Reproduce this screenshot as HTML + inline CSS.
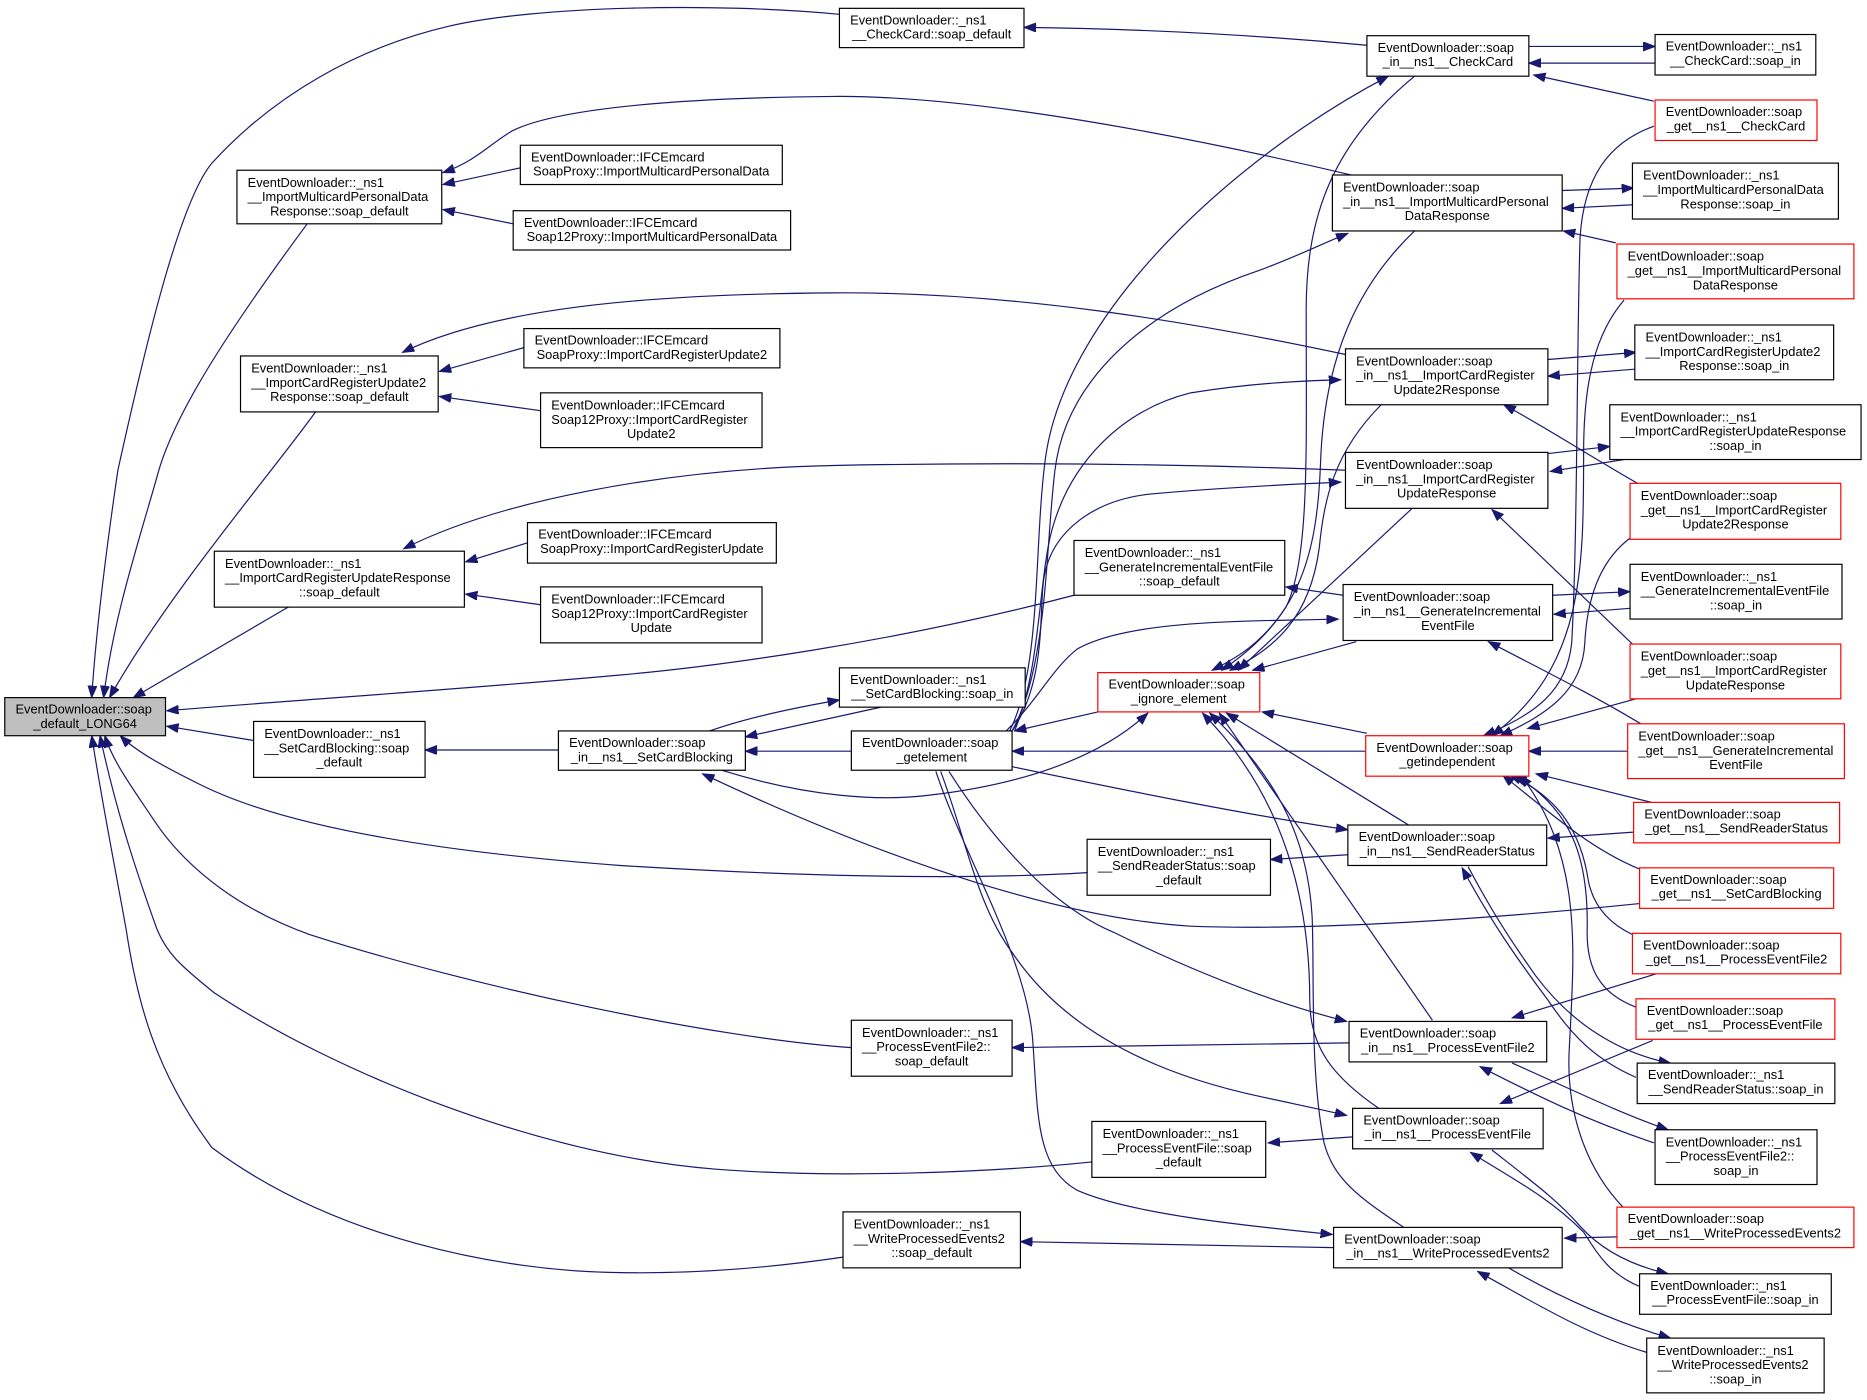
<!DOCTYPE html>
<html><head><meta charset="utf-8"><style>
html,body{margin:0;padding:0;background:#fff;width:1867px;height:1400px;overflow:hidden}
svg{display:block}
.e{fill:none;stroke:#191970;stroke-width:1;marker-end:url(#ah)}
.n rect{fill:#fff;stroke:#000;stroke-width:1}
.n.r rect{stroke:#ff0000}
.n.g rect{fill:#bfbfbf}
text{font-family:"Liberation Sans",Arial,sans-serif;font-size:10.8px;fill:#000}
text.m{text-anchor:middle}
</style></head><body>
<svg xmlns="http://www.w3.org/2000/svg" width="1867" height="1400" viewBox="0 0 1568 1176" preserveAspectRatio="none">
<defs><marker id="ah" markerUnits="userSpaceOnUse" markerWidth="11" markerHeight="8" refX="10" refY="3.75" orient="auto"><path d="M0,0 L10,3.75 L0,7.5 z" fill="#191970" stroke="#191970" stroke-width="0.8"/></marker></defs>
<rect x="0" y="0" width="1568" height="1176" fill="#fff"/>
<g>
<path class="e" d="M705,12 C600,2 450,5 377,22 C300,40 230,80 178,137 C150,170 120,300 99,395 C88,470 80,540 77,586"/>
<path class="e" d="M258,188 C190,280 145,350 132,400 C115,460 95,520 87,586"/>
<path class="e" d="M265,346 C230,395 140,500 92,586"/>
<path class="e" d="M242,510 L112,586"/>
<path class="e" d="M902,500 C750,540 600,560 521,567 C400,578 250,588 140,597"/>
<path class="e" d="M213,622 L140,610"/>
<path class="e" d="M913,733 C800,740 650,735 521,727 C400,718 250,700 168,659 C140,645 115,632 101,618"/>
<path class="e" d="M715,880 C600,872 400,830 260,785 C190,760 150,720 130,690 C110,660 95,640 88,618"/>
<path class="e" d="M917,976 C830,985 700,990 600,982 C450,970 280,900 180,834 C150,810 140,800 132,781 C110,720 95,670 84,618"/>
<path class="e" d="M708,1056 C640,1066 580,1070 521,1069 C420,1068 280,1040 178,964 C130,900 115,840 106,781 C95,720 85,670 77,618"/>
<path class="e" d="M1148,38 C1050,29 950,24 860,23"/>
<path class="e" d="M1139,148 C1000,115 820,80 700,81 C580,82 470,90 430,110 C410,122 400,135 372,145"/>
<path class="e" d="M437,141 L372,155"/>
<path class="e" d="M431,188 L372,176"/>
<path class="e" d="M1131,298 C1000,270 850,245 700,246 C560,247 420,256 338,296"/>
<path class="e" d="M440,292 L369,312"/>
<path class="e" d="M454,345 L369,333"/>
<path class="e" d="M1131,395 C1000,390 850,388 700,391 C560,394 420,420 339,461"/>
<path class="e" d="M443,456 L391,472"/>
<path class="e" d="M454,508 L391,499"/>
<path class="e" d="M469,630 L357,630"/>
<path class="e" d="M715,631 L626,631"/>
<path class="e" d="M740,594 L626,619"/>
<path class="e" d="M596,614 C630,602 670,594 705,588"/>
<path class="e" d="M606,647 C680,670 740,673 780,668 C850,660 920,640 964,599"/>
<path class="e" d="M1377,759 C1250,772 1100,782 1000,778 C900,772 760,730 590,650"/>
<path class="e" d="M922,598 L852,614"/>
<path class="e" d="M1147,631 L850,631"/>
<path class="e" d="M850,644 C950,665 1050,685 1132,697"/>
<path class="e" d="M848,614 C875,560 868,460 878,385 C895,260 1040,130 1166,64"/>
<path class="e" d="M850,614 C880,560 878,460 886,395 C895,320 960,260 1058,227 C1090,215 1110,205 1132,196"/>
<path class="e" d="M852,614 C875,560 872,480 885,440 C900,390 940,345 1000,330 C1050,322 1090,320 1126,319"/>
<path class="e" d="M850,614 C880,570 872,510 877,484 C884,445 920,420 966,415 C1020,410 1080,407 1126,405"/>
<path class="e" d="M845,614 C870,590 885,560 905,545 C950,520 1050,522 1124,520"/>
<path class="e" d="M1188,64 C1120,120 1097,180 1097,260 C1097,380 1100,470 1080,510 C1060,540 1040,552 1018,563"/>
<path class="e" d="M1188,194 C1140,240 1112,300 1109,390 C1106,470 1090,520 1026,563"/>
<path class="e" d="M1160,340 C1120,380 1112,420 1108,460 C1100,520 1070,545 1033,563"/>
<path class="e" d="M1186,427 L1040,563"/>
<path class="e" d="M1139,539 L1052,563"/>
<path class="e" d="M1183,693 L1030,599"/>
<path class="e" d="M1203,857 L1024,599"/>
<path class="e" d="M1158,931 C1120,905 1100,880 1100,840 C1100,760 1080,690 1040,635 C1030,620 1020,610 1010,599"/>
<path class="e" d="M1179,1031 C1140,1005 1120,990 1112,960 C1100,900 1104,820 1102,770 C1098,700 1070,650 1016,599"/>
<path class="e" d="M1148,616 L1060,598"/>
<path class="e" d="M1128,500 L1080,493"/>
<path class="e" d="M1304,500 L1369,497"/>
<path class="e" d="M1369,511 L1305,516"/>
<path class="e" d="M1378,608 C1340,585 1300,565 1250,539"/>
<path class="e" d="M1371,541 L1253,428"/>
<path class="e" d="M1377,407 C1330,380 1300,360 1263,340"/>
<path class="e" d="M1357,204 L1313,194"/>
<path class="e" d="M1389,85 L1288,63"/>
<path class="e" d="M1284,39 L1390,39"/>
<path class="e" d="M1390,53 L1284,53"/>
<path class="e" d="M1312,160 L1372,158"/>
<path class="e" d="M1372,172 L1312,175"/>
<path class="e" d="M1300,302 L1374,296"/>
<path class="e" d="M1374,310 L1300,316"/>
<path class="e" d="M1300,381 L1352,375"/>
<path class="e" d="M1364,386 L1302,396"/>
<path class="e" d="M1389,106 C1350,120 1330,150 1327,200 C1324,300 1325,450 1320,540 C1316,580 1290,600 1246,618"/>
<path class="e" d="M1364,252 C1340,280 1330,320 1330,380 C1330,480 1330,560 1253,618"/>
<path class="e" d="M1369,452 C1345,470 1333,500 1331,540 C1329,580 1300,600 1260,618"/>
<path class="e" d="M1374,587 L1283,612"/>
<path class="e" d="M1367,631 L1284,631"/>
<path class="e" d="M1391,675 L1290,650"/>
<path class="e" d="M1372,699 L1300,704"/>
<path class="e" d="M1132,718 L1067,722"/>
<path class="e" d="M1377,730 C1340,715 1310,690 1262,651"/>
<path class="e" d="M1371,785 C1350,775 1338,760 1334,740 C1328,700 1310,670 1268,651"/>
<path class="e" d="M1374,846 C1345,835 1332,815 1333,780 C1334,720 1320,680 1272,651"/>
<path class="e" d="M1364,1015 C1330,980 1315,930 1318,880 C1322,800 1330,720 1277,651"/>
<path class="e" d="M1391,818 L1270,855"/>
<path class="e" d="M1133,876 L850,880"/>
<path class="e" d="M1270,893 C1320,915 1360,935 1401,949"/>
<path class="e" d="M1389,960 C1330,940 1290,920 1243,896"/>
<path class="e" d="M1388,874 L1260,927"/>
<path class="e" d="M1136,955 L1065,960"/>
<path class="e" d="M1253,966 C1290,995 1310,1010 1327,1030 C1345,1050 1370,1063 1401,1070"/>
<path class="e" d="M1378,1081 C1350,1070 1340,1050 1330,1035 C1300,1005 1270,990 1235,968"/>
<path class="e" d="M1358,1039 L1314,1040"/>
<path class="e" d="M1120,1048 L857,1043"/>
<path class="e" d="M1267,1065 C1310,1090 1360,1112 1403,1124"/>
<path class="e" d="M1383,1136 C1330,1120 1290,1095 1241,1068"/>
<path class="e" d="M1233,728 C1250,760 1265,785 1290,820 C1320,860 1360,885 1403,893"/>
<path class="e" d="M1374,905 C1340,890 1320,870 1300,840 C1270,800 1250,770 1228,729"/>
<path class="e" d="M797,648 C830,700 880,760 935,783 C990,810 1060,840 1131,858"/>
<path class="e" d="M790,648 C810,700 820,760 850,800 C890,860 960,900 1058,921 C1090,928 1110,932 1131,937"/>
<path class="e" d="M786,648 C810,720 860,800 867,870 C872,930 868,980 905,1000 C950,1020 1050,1030 1119,1037"/>
</g>
<g>
<g class="n g"><rect x="4" y="586" width="135" height="32"/><text x="13" y="599.5">EventDownloader::soap</text><text class="m" x="71.5" y="611.5">_default_LONG64</text></g>
<g class="n"><rect x="705" y="7" width="155" height="33"/><text x="714" y="20.5">EventDownloader::_ns1</text><text class="m" x="782.5" y="32.5">__CheckCard::soap_default</text></g>
<g class="n"><rect x="199" y="143" width="172" height="45"/><text x="208" y="157">EventDownloader::_ns1</text><text x="208" y="169">__ImportMulticardPersonalData</text><text class="m" x="285" y="181">Response::soap_default</text></g>
<g class="n"><rect x="437" y="122" width="220" height="33"/><text x="446" y="135.5">EventDownloader::IFCEmcard</text><text class="m" x="547" y="147.5">SoapProxy::ImportMulticardPersonalData</text></g>
<g class="n"><rect x="431" y="177" width="233" height="33"/><text x="440" y="190.5">EventDownloader::IFCEmcard</text><text class="m" x="547.5" y="202.5">Soap12Proxy::ImportMulticardPersonalData</text></g>
<g class="n"><rect x="202" y="299" width="166" height="47"/><text x="211" y="313">EventDownloader::_ns1</text><text x="211" y="325">__ImportCardRegisterUpdate2</text><text class="m" x="285" y="337">Response::soap_default</text></g>
<g class="n"><rect x="440" y="276" width="215" height="33"/><text x="449" y="289.5">EventDownloader::IFCEmcard</text><text class="m" x="547.5" y="301.5">SoapProxy::ImportCardRegisterUpdate2</text></g>
<g class="n"><rect x="454" y="330" width="186" height="46"/><text x="463" y="344">EventDownloader::IFCEmcard</text><text x="463" y="356">Soap12Proxy::ImportCardRegister</text><text class="m" x="547" y="368">Update2</text></g>
<g class="n"><rect x="180" y="463" width="210" height="47"/><text x="189" y="477">EventDownloader::_ns1</text><text x="189" y="489">__ImportCardRegisterUpdateResponse</text><text class="m" x="285" y="501">::soap_default</text></g>
<g class="n"><rect x="443" y="439" width="209" height="34"/><text x="452" y="452.5">EventDownloader::IFCEmcard</text><text class="m" x="547.5" y="464.5">SoapProxy::ImportCardRegisterUpdate</text></g>
<g class="n"><rect x="454" y="493" width="186" height="47"/><text x="463" y="507">EventDownloader::IFCEmcard</text><text x="463" y="519">Soap12Proxy::ImportCardRegister</text><text class="m" x="547" y="531">Update</text></g>
<g class="n"><rect x="213" y="606" width="144" height="47"/><text x="222" y="620">EventDownloader::_ns1</text><text x="222" y="632">__SetCardBlocking::soap</text><text class="m" x="285" y="644">_default</text></g>
<g class="n"><rect x="469" y="614" width="157" height="33"/><text x="478" y="627.5">EventDownloader::soap</text><text class="m" x="547.5" y="639.5">_in__ns1__SetCardBlocking</text></g>
<g class="n"><rect x="705" y="561" width="156" height="33"/><text x="714" y="574.5">EventDownloader::_ns1</text><text class="m" x="783" y="586.5">__SetCardBlocking::soap_in</text></g>
<g class="n"><rect x="715" y="614" width="135" height="33"/><text x="724" y="627.5">EventDownloader::soap</text><text class="m" x="782.5" y="639.5">_getelement</text></g>
<g class="n r"><rect x="922" y="565" width="136" height="33"/><text x="931" y="578.5">EventDownloader::soap</text><text class="m" x="990" y="590.5">_ignore_element</text></g>
<g class="n"><rect x="902" y="454" width="177" height="46"/><text x="911" y="468">EventDownloader::_ns1</text><text x="911" y="480">__GenerateIncrementalEventFile</text><text class="m" x="990.5" y="492">::soap_default</text></g>
<g class="n"><rect x="913" y="705" width="154" height="47"/><text x="922" y="719">EventDownloader::_ns1</text><text x="922" y="731">__SendReaderStatus::soap</text><text class="m" x="990" y="743">_default</text></g>
<g class="n"><rect x="715" y="857" width="135" height="47"/><text x="724" y="871">EventDownloader::_ns1</text><text x="724" y="883">__ProcessEventFile2::</text><text class="m" x="782.5" y="895">soap_default</text></g>
<g class="n"><rect x="917" y="942" width="146" height="47"/><text x="926" y="956">EventDownloader::_ns1</text><text x="926" y="968">__ProcessEventFile::soap</text><text class="m" x="990" y="980">_default</text></g>
<g class="n"><rect x="708" y="1018" width="149" height="47"/><text x="717" y="1032">EventDownloader::_ns1</text><text x="717" y="1044">__WriteProcessedEvents2</text><text class="m" x="782.5" y="1056">::soap_default</text></g>
<g class="n"><rect x="1148" y="30" width="136" height="34"/><text x="1157" y="43.5">EventDownloader::soap</text><text class="m" x="1216" y="55.5">_in__ns1__CheckCard</text></g>
<g class="n"><rect x="1390" y="29" width="135" height="34"/><text x="1399" y="42.5">EventDownloader::_ns1</text><text class="m" x="1457.5" y="54.5">__CheckCard::soap_in</text></g>
<g class="n r"><rect x="1390" y="84" width="136" height="34"/><text x="1399" y="97.5">EventDownloader::soap</text><text class="m" x="1458" y="109.5">_get__ns1__CheckCard</text></g>
<g class="n"><rect x="1119" y="147" width="193" height="47"/><text x="1128" y="161">EventDownloader::soap</text><text x="1128" y="173">_in__ns1__ImportMulticardPersonal</text><text class="m" x="1215.5" y="185">DataResponse</text></g>
<g class="n"><rect x="1371" y="137" width="173" height="47"/><text x="1380" y="151">EventDownloader::_ns1</text><text x="1380" y="163">__ImportMulticardPersonalData</text><text class="m" x="1457.5" y="175">Response::soap_in</text></g>
<g class="n r"><rect x="1358" y="205" width="199" height="46"/><text x="1367" y="219">EventDownloader::soap</text><text x="1367" y="231">_get__ns1__ImportMulticardPersonal</text><text class="m" x="1457.5" y="243">DataResponse</text></g>
<g class="n"><rect x="1130" y="293" width="170" height="47"/><text x="1139" y="307">EventDownloader::soap</text><text x="1139" y="319">_in__ns1__ImportCardRegister</text><text class="m" x="1215" y="331">Update2Response</text></g>
<g class="n"><rect x="1373" y="273" width="167" height="46"/><text x="1382" y="287">EventDownloader::_ns1</text><text x="1382" y="299">__ImportCardRegisterUpdate2</text><text class="m" x="1456.5" y="311">Response::soap_in</text></g>
<g class="n"><rect x="1352" y="340" width="211" height="46"/><text x="1361" y="354">EventDownloader::_ns1</text><text x="1361" y="366">__ImportCardRegisterUpdateResponse</text><text class="m" x="1457.5" y="378">::soap_in</text></g>
<g class="n"><rect x="1130" y="380" width="170" height="47"/><text x="1139" y="394">EventDownloader::soap</text><text x="1139" y="406">_in__ns1__ImportCardRegister</text><text class="m" x="1215" y="418">UpdateResponse</text></g>
<g class="n r"><rect x="1369" y="406" width="177" height="47"/><text x="1378" y="420">EventDownloader::soap</text><text x="1378" y="432">_get__ns1__ImportCardRegister</text><text class="m" x="1457.5" y="444">Update2Response</text></g>
<g class="n"><rect x="1128" y="491" width="176" height="47"/><text x="1137" y="505">EventDownloader::soap</text><text x="1137" y="517">_in__ns1__GenerateIncremental</text><text class="m" x="1216" y="529">EventFile</text></g>
<g class="n"><rect x="1369" y="474" width="178" height="46"/><text x="1378" y="488">EventDownloader::_ns1</text><text x="1378" y="500">__GenerateIncrementalEventFile</text><text class="m" x="1458" y="512">::soap_in</text></g>
<g class="n r"><rect x="1369" y="541" width="177" height="46"/><text x="1378" y="555">EventDownloader::soap</text><text x="1378" y="567">_get__ns1__ImportCardRegister</text><text class="m" x="1457.5" y="579">UpdateResponse</text></g>
<g class="n r"><rect x="1147" y="618" width="137" height="34"/><text x="1156" y="631.5">EventDownloader::soap</text><text class="m" x="1215.5" y="643.5">_getindependent</text></g>
<g class="n r"><rect x="1367" y="608" width="182" height="46"/><text x="1376" y="622">EventDownloader::soap</text><text x="1376" y="634">_get__ns1__GenerateIncremental</text><text class="m" x="1458" y="646">EventFile</text></g>
<g class="n r"><rect x="1372" y="674" width="173" height="34"/><text x="1381" y="687.5">EventDownloader::soap</text><text class="m" x="1458.5" y="699.5">_get__ns1__SendReaderStatus</text></g>
<g class="n"><rect x="1132" y="693" width="167" height="34"/><text x="1141" y="706.5">EventDownloader::soap</text><text class="m" x="1215.5" y="718.5">_in__ns1__SendReaderStatus</text></g>
<g class="n r"><rect x="1377" y="729" width="163" height="34"/><text x="1386" y="742.5">EventDownloader::soap</text><text class="m" x="1458.5" y="754.5">_get__ns1__SetCardBlocking</text></g>
<g class="n r"><rect x="1371" y="784" width="175" height="34"/><text x="1380" y="797.5">EventDownloader::soap</text><text class="m" x="1458.5" y="809.5">_get__ns1__ProcessEventFile2</text></g>
<g class="n r"><rect x="1374" y="839" width="167" height="34"/><text x="1383" y="852.5">EventDownloader::soap</text><text class="m" x="1457.5" y="864.5">_get__ns1__ProcessEventFile</text></g>
<g class="n"><rect x="1133" y="858" width="166" height="34"/><text x="1142" y="871.5">EventDownloader::soap</text><text class="m" x="1216" y="883.5">_in__ns1__ProcessEventFile2</text></g>
<g class="n"><rect x="1375" y="893" width="166" height="34"/><text x="1384" y="906.5">EventDownloader::_ns1</text><text class="m" x="1458" y="918.5">__SendReaderStatus::soap_in</text></g>
<g class="n"><rect x="1136" y="931" width="160" height="34"/><text x="1145" y="944.5">EventDownloader::soap</text><text class="m" x="1216" y="956.5">_in__ns1__ProcessEventFile</text></g>
<g class="n"><rect x="1390" y="949" width="136" height="46"/><text x="1399" y="963">EventDownloader::_ns1</text><text x="1399" y="975">__ProcessEventFile2::</text><text class="m" x="1458" y="987">soap_in</text></g>
<g class="n r"><rect x="1358" y="1014" width="199" height="34"/><text x="1367" y="1027.5">EventDownloader::soap</text><text class="m" x="1457.5" y="1039.5">_get__ns1__WriteProcessedEvents2</text></g>
<g class="n"><rect x="1120" y="1031" width="192" height="34"/><text x="1129" y="1044.5">EventDownloader::soap</text><text class="m" x="1216" y="1056.5">_in__ns1__WriteProcessedEvents2</text></g>
<g class="n"><rect x="1377" y="1070" width="161" height="34"/><text x="1386" y="1083.5">EventDownloader::_ns1</text><text class="m" x="1457.5" y="1095.5">__ProcessEventFile::soap_in</text></g>
<g class="n"><rect x="1383" y="1124" width="149" height="46"/><text x="1392" y="1138">EventDownloader::_ns1</text><text x="1392" y="1150">__WriteProcessedEvents2</text><text class="m" x="1457.5" y="1162">::soap_in</text></g>
</g>
</svg>
<script>
try{document.querySelectorAll('g.n').forEach(function(g){var r=g.querySelector('rect');var w=+r.getAttribute('width');var max=w-15;g.querySelectorAll('text').forEach(function(t){var L=t.getComputedTextLength();if(L>max){t.setAttribute('textLength',max);t.setAttribute('lengthAdjust','spacingAndGlyphs');}});});}catch(e){}
</script>
</body></html>
